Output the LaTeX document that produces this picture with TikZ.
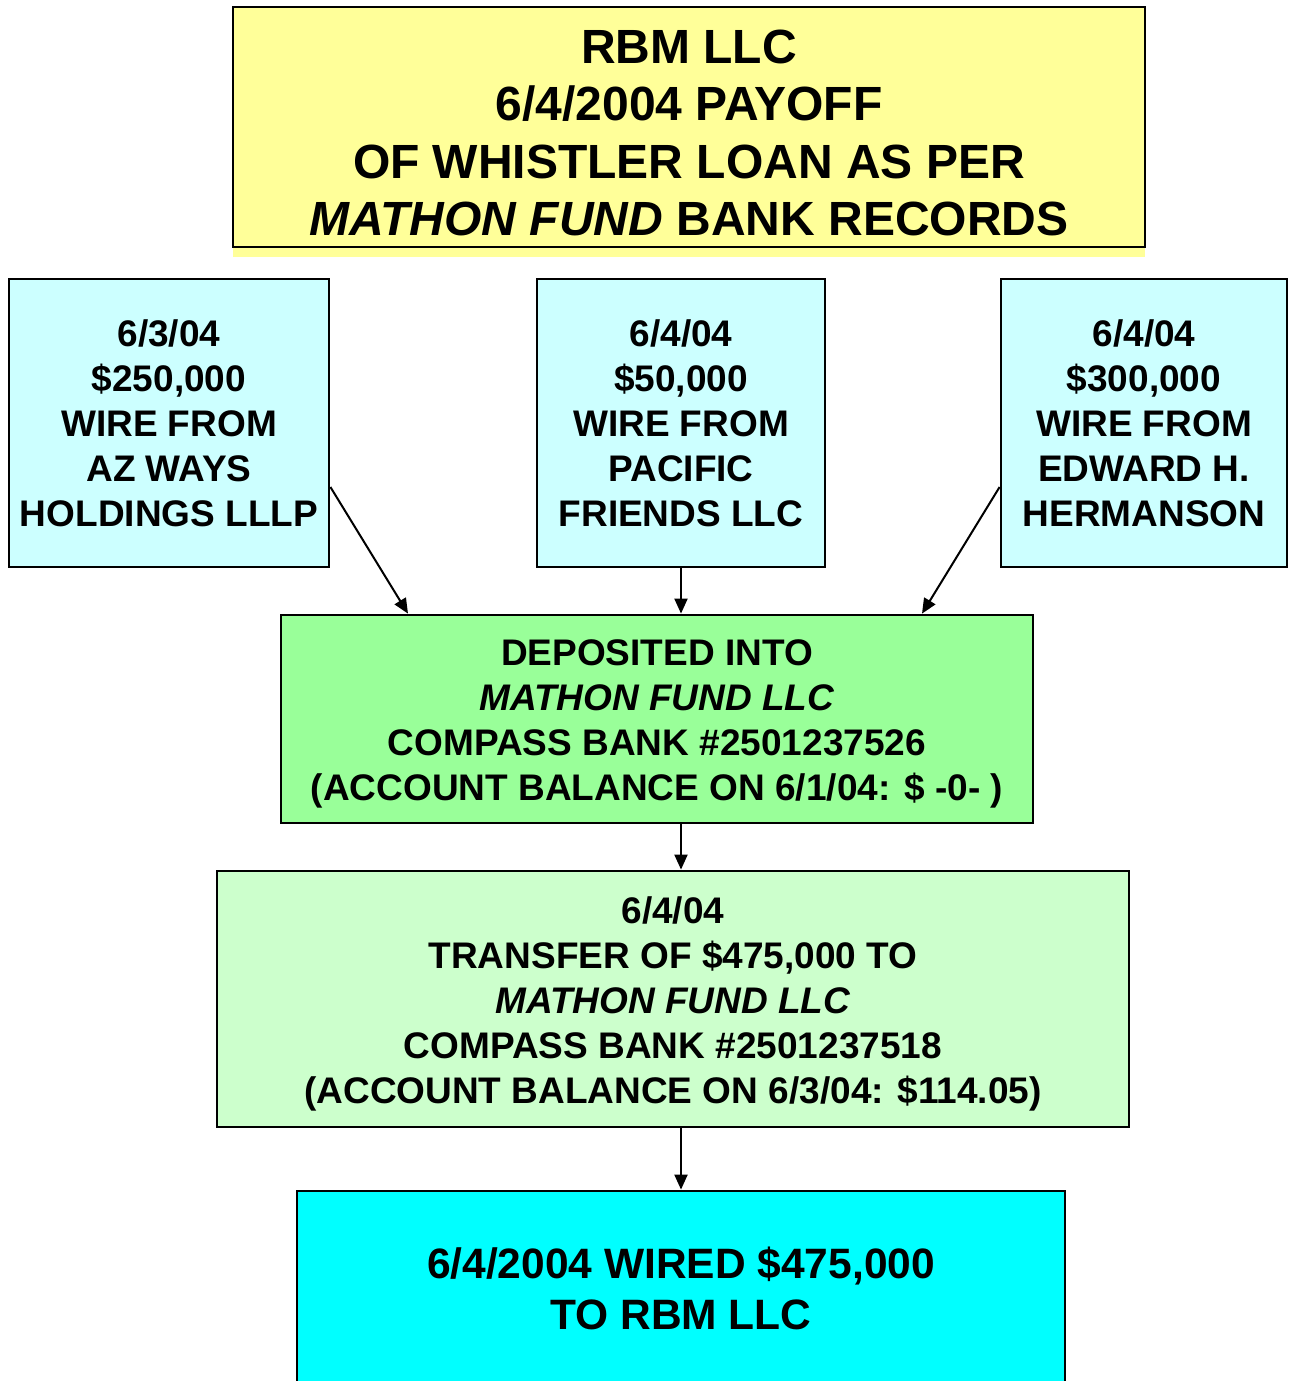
\documentclass[tikz,border=0pt]{standalone}
\usepackage{fontspec}
\setmainfont{Liberation Sans}
\usepackage{xcolor}
\usetikzlibrary{arrows.meta,calc}

\definecolor{titleyellow}{HTML}{FFFF99}
\definecolor{wirecyan}{HTML}{CCFFFF}
\definecolor{depgreen}{HTML}{99FF99}
\definecolor{xfergreen}{HTML}{CCFFCC}
\definecolor{rbmcyan}{HTML}{00FFFF}

\begin{document}
\begin{tikzpicture}[x=0.5pt,y=-0.5pt,
  box/.style={draw,line width=1.4pt,inner sep=0pt,align=center,font=\bfseries},
  boxtext/.style={inner sep=0pt,align=center,font=\bfseries\fontsize{18.5}{22.5}\selectfont},
  flow/.style={line width=1pt,-{Triangle[length=7.5pt,width=6.5pt]}}]
\useasboundingbox (0,0) rectangle (1289,1381);

\fill[titleyellow] (233,10) rectangle (1145,257);
\node[box,fill=titleyellow,minimum width=456pt,minimum height=120pt] (title) at (689,127) {};
\node[boxtext,font=\bfseries\fontsize{24}{28.75}\selectfont] (titletext) at ([yshift=-3pt]title.center)
  {RBM LLC\\6/4/2004 PAYOFF\\OF WHISTLER LOAN AS PER\\\textit{MATHON FUND} BANK RECORDS};

\node[box,fill=wirecyan,minimum width=160pt,minimum height=144pt,
  font=\bfseries\fontsize{18.5}{22.5}\selectfont] (wireA) at (169,423)
  {6/3/04\\\$250,000\\WIRE FROM\\AZ WAYS\\HOLDINGS LLLP};
\node[box,fill=wirecyan,minimum width=144pt,minimum height=144pt,
  font=\bfseries\fontsize{18.5}{22.5}\selectfont] (wireB) at (681,423)
  {6/4/04\\\$50,000\\WIRE FROM\\PACIFIC\\FRIENDS LLC};
\node[box,fill=wirecyan,minimum width=143pt,minimum height=144pt,
  font=\bfseries\fontsize{18.5}{22.5}\selectfont] (wireC) at (1144,423)
  {6/4/04\\\$300,000\\WIRE FROM\\EDWARD H.\\HERMANSON};

\node[box,fill=depgreen,minimum width=376pt,minimum height=104pt] (deposit) at (657,719) {};
\node[boxtext] (deposittext) at ([yshift=-2.5pt]deposit.center)
  {DEPOSITED INTO\\\textit{MATHON FUND LLC}\\COMPASS BANK \#2501237526\\(ACCOUNT BALANCE ON 6/1/04: \$ -0- )};

\node[box,fill=xfergreen,minimum width=456pt,minimum height=128pt] (transfer) at (673,999) {};
\node[boxtext] (transfertext) at ([yshift=-2.5pt]transfer.center)
  {6/4/04\\TRANSFER OF \$475,000 TO\\\textit{MATHON FUND LLC}\\COMPASS BANK \#2501237518\\(ACCOUNT BALANCE ON 6/3/04: \$114.05)};

\node[box,fill=rbmcyan,minimum width=384pt,minimum height=97pt,
  font=\bfseries\fontsize{21.25}{25.5}\selectfont] (wired) at (681,1288)
  {6/4/2004 WIRED \$475,000\\TO RBM LLC};

% wires into the fund account
\draw[flow] ([yshift=-32pt]wireA.east) -- ([xshift=-124.5pt]deposit.north);
\draw[flow] (wireB.south) -- (wireB.south |- deposit.north);
\draw[flow] ([yshift=-32pt]wireC.west) -- ([xshift=132.5pt]deposit.north);

\draw[flow] (wired.north |- deposit.south) -- (wired.north |- transfer.north);
\draw[flow] (wired.north |- transfer.south) -- (wired.north);
\end{tikzpicture}
\end{document}
